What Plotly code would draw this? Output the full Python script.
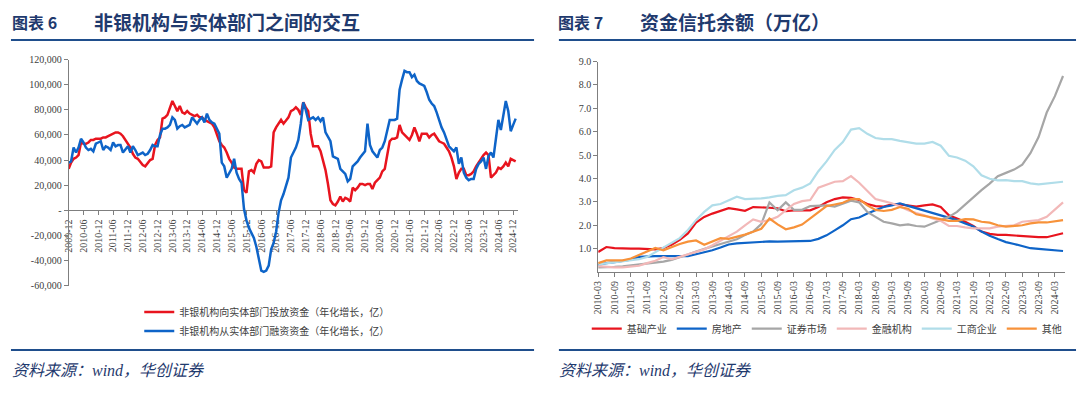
import plotly.graph_objects as go
import pandas as pd

# ---------------- Left chart data (monthly, 亿) ----------------
months = pd.date_range("2009-12-01", periods=182, freq="MS").strftime("%Y-%m").tolist()

invest_k = [33, 38, 41, 42, 44, 54, 53, 53, 54, 56, 56, 57, 57, 57, 58, 58, 59, 60, 61, 62,
            62, 61, 59, 56, 54, 50, 45, 42, 41, 38, 36, 35, 38, 40, 41, 52, 56, 58, 73, 74,
            76, 82, 87, 83, 79, 83, 78, 77, 79, 77, 76, 75, 76, 74, 74, 72, 71, 70, 69, 66,
            60, 55, 52, 50, 46, 41, 38, 34, 33, 33, 33, 16, 14, 31, 32, 30, 37, 40, 39, 34,
            34, 34, 35, 62, 66, 69, 72, 69, 72, 74, 79, 80, 82, 80, 76, 86, 82, 79, 61, 51,
            51, 51, 47, 40, 32, 21, 8, 5, 4, 7, 11, 7, 10, 9, 7, 18, 16, 18, 21, 21,
            20, 21, 21, 17, 22, 24, 26, 31, 33, 44, 55, 57, 57, 58, 68, 62, 60, 58, 56, 60,
            66, 61, 55, 61, 61, 61, 58, 60, 61, 58, 55, 54, 53, 50, 47, 42, 35, 25, 30, 33,
            33, 28, 28, 29, 31, 35, 38, 42, 44, 46, 44, 26, 28, 30, 34, 33, 35, 38, 35, 41,
            40, 39]

finance_k = [38, 39, 50, 46, 50, 57, 54, 50, 48, 49, 47, 53, 54, 55, 48, 51, 50, 48, 54, 51,
             52, 52, 46, 49, 51, 46, 51, 48, 44, 45, 46, 44, 45, 48, 52, 51, 51, 60, 65, 65,
             66, 68, 74, 72, 65, 67, 68, 66, 67, 68, 74, 71, 69, 72, 74, 70, 77, 72, 70, 69,
             65, 61, 38, 35, 26, 30, 33, 41, 30, 25, 22, 1, -8, -14, -18, -22, -29, -38, -48, -49,
             -48, -44, -31, -26, -17, -2, 8, 13, 20, 26, 42, 46, 50, 56, 69, 86, 80, 72, 73, 74,
             72, 74, 71, 74, 62, 58, 55, 43, 42, 41, 33, 31, 29, 23, 25, 35, 37, 39, 42, 45,
             47, 69, 52, 47, 44, 42, 48, 50, 55, 65, 72, 72, 72, 73, 96, 104, 111, 110, 110, 106,
             108, 103, 101, 100, 99, 94, 88, 85, 83, 78, 72, 66, 62, 56, 51, 49, 47, 50, 37, 42,
             30, 26, 24, 25, 25, 33, 37, 39, 42, 33, 43, 46, 42, 57, 72, 64, 75, 87, 79, 63,
             68, 73]

invest = [v * 1000 for v in invest_k]
finance = [v * 1000 for v in finance_k]

left_tickvals = months[::6]
left_yvals = [-60000, -40000, -20000, 0, 20000, 40000, 60000, 80000, 100000, 120000]
left_ytext = ["-60,000", "-40,000", "-20,000", "-", "20,000", "40,000", "60,000",
              "80,000", "100,000", "120,000"]

# ---------------- Right chart data (quarterly, 万亿) ----------------
quarters = pd.date_range("2010-03-01", periods=58, freq="3MS").strftime("%Y-%m").tolist()

infra = [0.86, 1.07, 1.02, 1.00, 1.00, 1.00, 0.98, 0.97, 1.03, 1.17, 1.38, 1.65, 2.12, 2.36, 2.50,
         2.60, 2.73, 2.68, 2.62, 2.78, 2.78, 2.75, 2.72, 2.60, 2.64, 2.64, 2.64, 2.78, 2.98, 3.12,
         3.19, 3.17, 3.08, 2.91, 2.82, 2.80, 2.89, 2.89, 2.85, 2.80, 2.85, 2.89, 2.78, 2.43, 2.29,
         2.15, 1.97, 1.73, 1.63, 1.59, 1.59, 1.56, 1.55, 1.50, 1.49, 1.49, 1.58, 1.66]
estate = [0.30, 0.38, 0.42, 0.47, 0.53, 0.65, 0.68, 0.68, 0.68, 0.67, 0.66, 0.68, 0.76, 0.84, 0.93,
          1.05, 1.18, 1.23, 1.25, 1.28, 1.30, 1.31, 1.30, 1.30, 1.30, 1.30, 1.33, 1.42, 1.57, 1.78,
          2.00, 2.26, 2.33, 2.50, 2.64, 2.78, 2.85, 2.94, 2.83, 2.73, 2.62, 2.50, 2.40, 2.30, 2.22,
          2.08, 1.95, 1.73, 1.55, 1.41, 1.28, 1.20, 1.10, 1.02, 0.99, 0.96, 0.93, 0.90]
securities = [0.20, 0.20, 0.22, 0.24, 0.28, 0.33, 0.37, 0.41, 0.45, 0.52, 0.62, 0.75, 0.88, 1.00, 1.10,
              1.20, 1.30, 1.40, 1.58, 1.73, 2.05, 2.98, 2.64, 2.98, 2.66, 2.66, 2.82, 2.82, 2.85, 2.80,
              2.94, 3.05, 2.98, 2.57, 2.36, 2.15, 2.08, 2.00, 2.04, 1.97, 1.94, 2.08, 2.22, 2.36, 2.57,
              2.89, 3.19, 3.50, 3.78, 4.10, 4.24, 4.38, 4.59, 5.08, 5.77, 6.82, 7.52, 8.38]
fin_inst = [0.25, 0.22, 0.20, 0.20, 0.22, 0.27, 0.38, 0.48, 0.64, 0.55, 0.65, 0.75, 0.85, 0.97, 1.15,
            1.35, 1.55, 1.73, 2.00, 2.25, 2.15, 2.22, 2.36, 2.64, 2.91, 3.03, 3.08, 3.61, 3.75, 3.86,
            3.89, 4.10, 3.82, 3.47, 3.12, 3.03, 2.94, 2.80, 2.64, 2.52, 2.43, 2.29, 2.19, 1.97, 1.97,
            1.91, 1.87, 1.87, 1.87, 1.94, 1.98, 2.00, 2.15, 2.19, 2.22, 2.36, 2.66, 2.98]
industry = [0.33, 0.38, 0.42, 0.45, 0.50, 0.55, 0.65, 0.85, 1.05, 1.24, 1.45, 1.80, 2.22, 2.57, 2.85,
            2.91, 3.08, 3.22, 3.12, 3.12, 3.15, 3.19, 3.26, 3.29, 3.50, 3.61, 3.79, 4.31, 4.73, 5.22,
            5.56, 6.09, 6.15, 5.91, 5.73, 5.68, 5.68, 5.61, 5.54, 5.49, 5.49, 5.56, 5.40, 4.97, 4.90,
            4.76, 4.52, 4.14, 3.99, 3.92, 3.93, 3.89, 3.89, 3.79, 3.75, 3.78, 3.82, 3.86]
others = [0.38, 0.50, 0.50, 0.50, 0.58, 0.72, 0.88, 1.03, 0.93, 1.08, 1.20, 1.30, 1.35, 1.17, 1.30,
          1.45, 1.42, 1.50, 1.60, 1.72, 1.85, 2.29, 2.04, 1.83, 1.91, 2.03, 2.29, 2.54, 2.82, 2.89,
          2.96, 3.12, 3.12, 2.85, 2.66, 2.61, 2.66, 2.78, 2.71, 2.47, 2.40, 2.36, 2.26, 2.19, 2.19,
          2.26, 2.25, 2.15, 2.11, 2.00, 1.94, 1.97, 2.00, 2.08, 2.12, 2.12, 2.18, 2.22]

right_tickvals = quarters[::2]
right_yvals = [1, 2, 3, 4, 5, 6, 7, 8, 9]
right_ytext = ["1.0", "2.0", "3.0", "4.0", "5.0", "6.0", "7.0", "8.0", "9.0"]

# ---------------- Figure ----------------
W, H = 1080, 395
def px(x):
    return x / W
def py(y):
    return 1 - y / H

fig = go.Figure()

fig.add_trace(go.Scatter(x=months, y=invest, mode="lines", name="非银机构向实体部门投放资金（年化增长，亿）",
                         line=dict(color="#E8141E", width=2.5), xaxis="x", yaxis="y", legend="legend"))
fig.add_trace(go.Scatter(x=months, y=finance, mode="lines", name="非银机构从实体部门融资资金（年化增长，亿）",
                         line=dict(color="#0E64C8", width=2.5), xaxis="x", yaxis="y", legend="legend"))

right_series = [
    ("基础产业", infra, "#E8141E"),
    ("房地产", estate, "#0E64C8"),
    ("证券市场", securities, "#A6A6A6"),
    ("金融机构", fin_inst, "#F2B8B8"),
    ("工商企业", industry, "#B0DDE9"),
    ("其他", others, "#F7923A"),
]
for name, vals, col in right_series:
    fig.add_trace(go.Scatter(x=quarters, y=vals, mode="lines", name=name,
                             line=dict(color=col, width=2.2), xaxis="x2", yaxis="y2", legend="legend2"))

tick_font = dict(family="Liberation Serif, Times New Roman, serif", size=10, color="#404040")
axis_col = "#7F7F7F"

fig.update_layout(
    width=W, height=H,
    margin=dict(l=0, r=0, t=0, b=0),
    paper_bgcolor="white", plot_bgcolor="white",
    showlegend=True,
    xaxis=dict(domain=[px(63), px(515)], type="category", range=[0, 182],
               anchor="free", position=py(210.7),
               tickmode="array", tickvals=left_tickvals, ticktext=left_tickvals,
               tickangle=-90, tickfont=tick_font, showgrid=False, zeroline=False,
               showline=True, linecolor=axis_col, linewidth=1,
               ticks="outside", ticklen=4, tickcolor=axis_col, layer="below traces"),
    yaxis=dict(domain=[py(288), py(56)], range=[-60000, 120000],
               tickmode="array", tickvals=left_yvals, ticktext=left_ytext,
               tickfont=tick_font, showgrid=False, zeroline=False,
               showline=True, linecolor=axis_col, linewidth=1,
               ticks="outside", ticklen=4, tickcolor=axis_col, anchor="x"),
    xaxis2=dict(domain=[px(595.5), px(1065.4)], type="category", range=[0, 57.3],
                anchor="y2",
                tickmode="array", tickvals=right_tickvals, ticktext=right_tickvals,
                tickangle=-90, tickfont=tick_font, showgrid=False, zeroline=False,
                showline=True, linecolor=axis_col, linewidth=1,
                ticks="outside", ticklen=4, tickcolor=axis_col),
    yaxis2=dict(domain=[py(274), py(58)], range=[0, 9], anchor="x2",
                tickmode="array", tickvals=right_yvals, ticktext=right_ytext,
                tickfont=tick_font, showgrid=False, zeroline=False,
                showline=True, linecolor=axis_col, linewidth=1,
                ticks="outside", ticklen=4, tickcolor=axis_col),
    legend=dict(x=px(134), y=py(300), xanchor="left", yanchor="top", orientation="v",
                font=dict(family="Noto Sans CJK SC", size=10, color="#404040"),
                bgcolor="rgba(0,0,0,0)", tracegroupgap=0),
    legend2=dict(x=px(584), y=py(332), xanchor="left", yanchor="middle", orientation="h",
                 font=dict(family="Noto Sans CJK SC", size=10, color="#404040"),
                 bgcolor="rgba(0,0,0,0)"),
)

title_col = "#1F3A6E"
title_font = dict(family="Noto Sans CJK SC", size=16, color=title_col, weight="bold")
title_font2 = dict(family="Noto Sans CJK SC", size=19, color=title_col, weight="bold")
src_font = dict(family="Liberation Serif, Noto Sans CJK SC", size=16, color=title_col, style="italic")

annos = [
    dict(text="图表 6", x=px(4), y=py(17), f=title_font),
    dict(text="非银机构与实体部门之间的交互", x=px(86), y=py(17), f=title_font2),
    dict(text="图表 7", x=px(553), y=py(17), f=title_font),
    dict(text="资金信托余额（万亿）", x=px(636), y=py(17), f=title_font2),
]
for a in annos:
    fig.add_annotation(text=a["text"], x=a["x"], y=a["y"], xref="paper", yref="paper",
                       xanchor="left", yanchor="middle", showarrow=False, font=a["f"])
for xx in (4, 554):
    fig.add_annotation(text="资料来源：wind，华创证券", x=px(xx), y=py(375), xref="paper", yref="paper",
                       xanchor="left", yanchor="middle", showarrow=False, font=src_font)

for (x0, x1) in ((5, 531), (556, 1076)):
    for yy in (36, 354):
        fig.add_shape(type="line", xref="paper", yref="paper", x0=px(x0), x1=px(x1), y0=py(yy), y1=py(yy),
                      line=dict(color="#1F4E8C", width=2))

fig.write_html("out.html", config={"displayModeBar": False},
               post_script="document.body.style.margin='0';document.documentElement.style.overflow='hidden';")
